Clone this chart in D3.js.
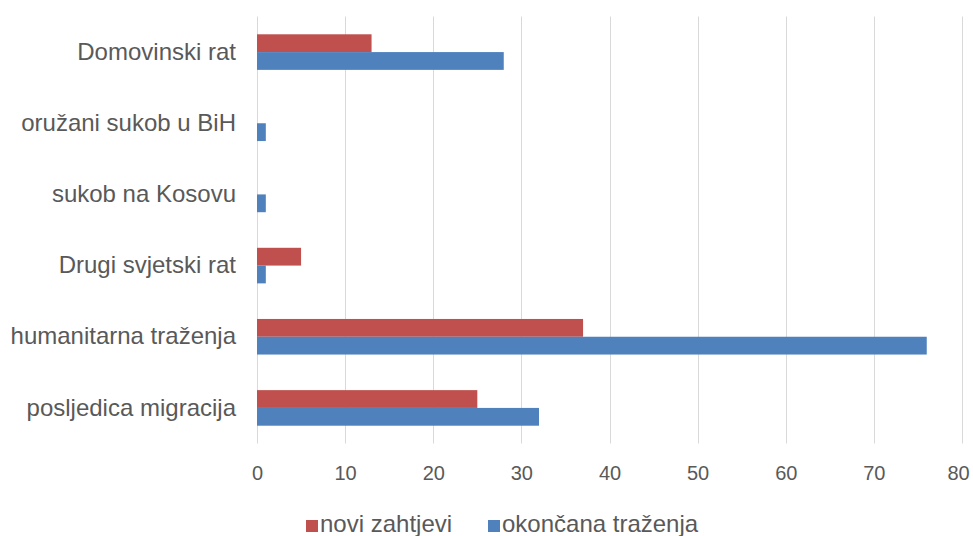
<!DOCTYPE html>
<html><head><meta charset="utf-8">
<script src="https://cdn.jsdelivr.net/npm/d3@7"></script>
<style>body{margin:0;background:#fff}svg{display:block}text{font-family:"Liberation Sans",Arial,sans-serif;fill:#595959}</style>
</head><body><svg id="c" width="973" height="536"></svg>
<script>
const categories = ["Domovinski rat","oružani sukob u BiH","sukob na Kosovu","Drugi svjetski rat","humanitarna traženja","posljedica migracija"];
const seriesNames = ["novi zahtjevi","okončana traženja"];
const noviZahtjevi = [13,0,0,5,37,25];
const okoncanaTrazenja = [28,1,1,1,76,32];
const xTicks = [0,10,20,30,40,50,60,70,80];
const colors = ["#C0504D","#4F81BD"];

const svg = d3.select("#c");
const m = {l:257, r:962, t:16.5, b:443.5};
const x = d3.scaleLinear().domain([0,80]).range([m.l,m.r]);
const y = d3.scaleBand().domain(categories).range([m.t,m.b]).paddingInner(0.5).paddingOuter(0.25);
const ys = d3.scaleBand().domain(seriesNames).range([0,y.bandwidth()]);

// gridlines
svg.append("g").selectAll("line").data(xTicks).join("line")
  .attr("x1",d=>Math.round(x(d))+0.5).attr("x2",d=>Math.round(x(d))+0.5)
  .attr("y1",m.t).attr("y2",m.b).attr("stroke","#d9d9d9").attr("stroke-width",1);

const data = categories.map((c,i)=>({c, vals:[noviZahtjevi[i], okoncanaTrazenja[i]]}));
const g = svg.append("g");
data.forEach(d=>{
  d.vals.forEach((v,j)=>{
    g.append("rect").attr("x",x(0)).attr("y",y(d.c)+ys(seriesNames[j]))
     .attr("width",x(v)-x(0)).attr("height",ys.bandwidth()).attr("fill",colors[j]);
  });
});

// x axis labels
const xa = d3.axisBottom(x).tickValues(xTicks).tickSize(0).tickPadding(0);
const xg = svg.append("g").attr("transform",`translate(0,473)`).call(xa);
xg.select(".domain").remove();
xg.selectAll("text").style("font-size","20px").attr("fill","#595959").attr("dy","0.35em").attr("y",0)
  .attr("dx",(d,i,n)=> i===n.length-1 ? -4 : 0);

// y axis labels
const ya = d3.axisLeft(y).tickSize(0).tickPadding(21);
const yg = svg.append("g").attr("transform",`translate(${m.l},0)`).call(ya);
yg.select(".domain").remove();
yg.selectAll("text").style("font-size","24px").attr("fill","#595959");

// legend
const leg = svg.append("g");
const legX = [306,488];
seriesNames.forEach((s,i)=>{
  leg.append("rect").attr("x",legX[i]).attr("y",520).attr("width",12).attr("height",12).attr("fill",colors[i]);
  leg.append("text").attr("x",legX[i]+14).attr("y",532).style("font-size","24px").text(s);
});
</script></body></html>
